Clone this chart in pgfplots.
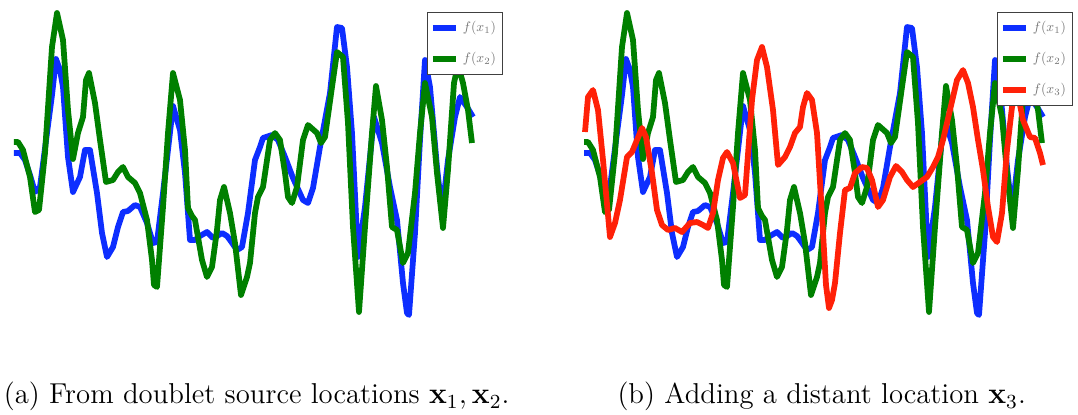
\documentclass[border=0pt]{standalone}
\usepackage{graphicx}
\usepackage{pgfplots}
\pgfplotsset{compat=1.18}
\usepackage{pgfplotstable}

\definecolor{fblue}{rgb}{0.05,0.18,1}
\definecolor{fgreen}{rgb}{0,0.5,0}
\definecolor{fred}{rgb}{1,0.13,0.03}

% f(x_1): sample position, value (downward positive)
\pgfplotstableread{
x y
14 153
20 153
25 160
30 175
35 192
40 187
47 133
52 95
56 59
60 70
63 87
68 157
73 192
80 177
85 150
90 150
97 193
102 233
107 257
113 247
118 227
123 212
128 211
135 205
140 207
147 223
153 243
157 242
163 193
168 150
173 106
180 130
185 173
190 240
195 240
200 236
207 232
213 238
217 236
222 233
227 236
230 240
237 250
242 247
248 213
255 160
260 147
263 138
272 135
278 140
285 157
293 178
303 200
308 203
313 188
320 147
330 93
337 27
342 28
347 67
352 133
358 257
365 207
374 117
382 143
390 187
397 220
403 283
407 313
409 315
415 233
420 140
425 60
430 87
437 167
442 213
448 160
455 117
460 97
467 107
473 117
}\fone

% f(x_2)
\pgfplotstableread{
x y
14 142
18 142
23 150
30 177
35 212
39 210
45 153
52 47
57 13
63 40
68 110
73 159
78 133
83 117
86 80
89 73
95 103
100 140
106 182
113 180
118 172
123 167
128 177
135 183
140 193
147 220
152 260
154 285
157 287
163 207
168 133
173 73
180 100
185 150
188 208
192 216
195 220
202 260
207 277
212 267
217 230
220 200
224 187
230 213
235 243
241 295
247 277
250 263
255 213
258 197
263 187
270 140
275 133
280 140
285 173
288 197
292 203
297 187
303 140
308 125
317 133
321 143
325 137
332 87
337 52
343 57
348 123
353 227
359 312
365 227
372 133
376 86
382 120
387 167
392 227
397 230
403 263
408 253
415 193
420 133
425 83
432 117
437 173
443 228
448 170
454 83
458 65
463 83
468 110
472 143
}\ftwo

% f(x_3)
\pgfplotstableread{
x y
15 132
18 97
23 90
28 110
33 160
40 237
45 223
50 200
57 157
62 152
67 140
72 128
76 137
82 173
87 210
92 225
98 230
105 228
112 232
120 223
127 222
133 225
138 228
143 213
148 180
153 158
157 152
163 163
170 198
175 195
182 100
187 60
192 47
197 67
203 110
208 165
215 157
220 147
225 133
230 127
233 107
237 93
242 100
247 133
252 215
256 285
259 308
262 300
265 283
270 233
275 190
280 188
285 173
292 167
297 168
302 180
308 207
313 200
320 177
326 166
332 172
337 180
343 187
350 182
357 177
363 167
368 157
373 140
380 110
387 80
393 70
398 83
403 107
408 140
413 170
418 207
423 237
427 242
432 213
437 150
442 107
447 90
453 120
460 137
465 138
470 153
473 165
}\fthree

\newcommand{\leg}[1]{\scalebox{0.55}{$#1$}}

\pgfplotsset{
  panel/.style={
    scale only axis, width=215.6pt, height=132pt,
    xmin=0, xmax=539, ymin=0, ymax=330, y dir=reverse,
    axis lines=none,
    every axis plot/.append style={line width=2.3pt, line join=round, no markers},
    legend cell align=left,
    legend image code/.code={\draw[##1, line width=2.3pt] (0pt,0pt) -- (9.2pt,0pt);},
    legend style={at={(axis cs:427,12)}, anchor=north west,
      draw=black!75, line width=0.4pt, fill=white,
      text=black!55,
      inner xsep=1pt, inner ysep=1.8pt, row sep=3.4pt,
      nodes={inner sep=1.67pt},
      /tikz/every even column/.append style={column sep=3.2pt}},
  },
}

\begin{document}
\begin{tikzpicture}
\path[use as bounding box] (0pt,0pt) rectangle (431.2pt,166pt);

\begin{axis}[panel, at={(0pt,166pt)}, anchor=north west]
  \addplot[fblue] table {\fone};
  \addplot[fgreen] table {\ftwo};
  \legend{\leg{f(x_1)}, \leg{f(x_2)}}
\end{axis}

\begin{axis}[panel, at={(228pt,166pt)}, anchor=north west]
  \addplot[fblue] table {\fone};
  \addplot[fgreen] table {\ftwo};
  \addplot[fred] table {\fthree};
  \legend{\leg{f(x_1)}, \leg{f(x_2)}, \leg{f(x_3)}}
\end{axis}

\begin{scope}[font=\fontsize{11.5}{14}\selectfont]
\node[anchor=base east, inner sep=0pt] at (204pt,4.4pt)
  {(a) From doublet source locations $\mathbf{x}_1, \mathbf{x}_2$.};
\node[anchor=base west, inner sep=0pt] at (246.8pt,4.4pt)
  {(b) Adding a distant location $\mathbf{x}_3$.};
\end{scope}
\end{tikzpicture}
\end{document}
